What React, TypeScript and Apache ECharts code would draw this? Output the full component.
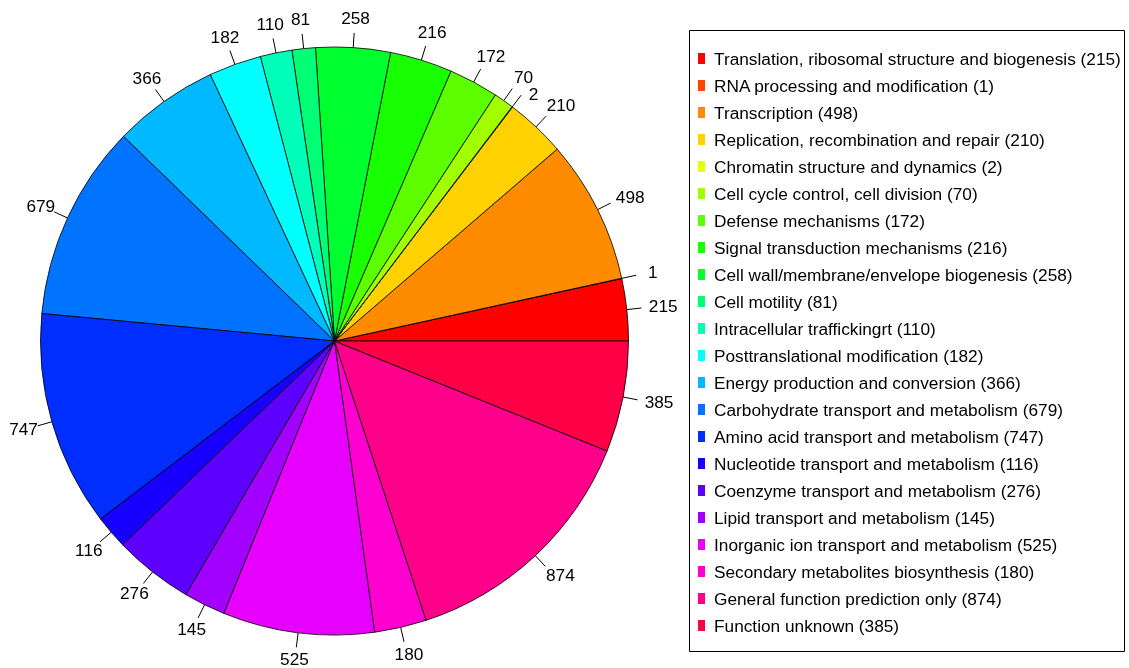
import React, { useEffect, useRef } from "react";
import * as echarts from "echarts";

const categories = [
  "Translation, ribosomal structure and biogenesis",
  "RNA processing and modification",
  "Transcription",
  "Replication, recombination and repair",
  "Chromatin structure and dynamics",
  "Cell cycle control, cell division",
  "Defense mechanisms",
  "Signal transduction mechanisms",
  "Cell wall/membrane/envelope biogenesis",
  "Cell motility",
  "Intracellular traffickingrt",
  "Posttranslational modification",
  "Energy production and conversion",
  "Carbohydrate transport and metabolism",
  "Amino acid transport and metabolism",
  "Nucleotide transport and metabolism",
  "Coenzyme transport and metabolism",
  "Lipid transport and metabolism",
  "Inorganic ion transport and metabolism",
  "Secondary metabolites biosynthesis",
  "General function prediction only",
  "Function unknown",
];

const counts = [
  215, 1, 498, 210, 2, 70, 172, 216, 258, 81, 110, 182, 366, 679, 747, 116, 276,
  145, 525, 180, 874, 385,
];

const colors = [
  "#FF0000", "#FF4600", "#FF8B00", "#FFD100", "#E8FF00", "#A2FF00", "#5DFF00",
  "#17FF00", "#00FF2E", "#00FF74", "#00FFB9", "#00FFFF", "#00B9FF", "#0074FF",
  "#002EFF", "#1700FF", "#5D00FF", "#A200FF", "#E800FF", "#FF00D1", "#FF008B",
  "#FF0046",
];

const FONT = "'Liberation Sans', Arial, Helvetica, sans-serif";
const FS = 17.25;
// small nudge for a label that would collide with its neighbour
const labelNudge: Record<number, [number, number]> = { 4: [2, 11] };

export default function App() {
  const ref = useRef<HTMLDivElement>(null);
  useEffect(() => {
    const chart = echarts.init(ref.current!, null, { renderer: "svg" });
    const cx = 334.5;
    const cy = 341;
    const r = 294;
    const total = counts.reduce((a, b) => a + b, 0);
    const mids: number[] = [];
    let acc = 0;
    counts.forEach((v) => {
      mids.push(acc + v / 2);
      acc += v;
    });
    const midAngle = (i: number) => (mids[i] / total) * 2 * Math.PI;

    chart.setOption({
      animation: false,
      graphic: [
        {
          type: "rect",
          silent: true,
          shape: { x: 689.5, y: 30.5, width: 435, height: 621 },
          style: { fill: "none", stroke: "#000", lineWidth: 1 },
        },
      ],
      legend: {
        orient: "vertical",
        left: 698,
        top: 50,
        padding: 0,
        itemWidth: 7,
        itemHeight: 11,
        itemGap: 10,
        icon: "rect",
        selectedMode: false,
        itemStyle: { borderWidth: 0 },
        textStyle: {
          fontSize: FS,
          lineHeight: 17,
          color: "#000",
          fontFamily: FONT,
          padding: [0, 0, 0, 4],
        },
        formatter: (name: string) => {
          const i = categories.indexOf(name);
          return `${name} (${counts[i]})`;
        },
        data: categories,
      },
      series: [
        {
          type: "pie",
          center: [cx, cy],
          radius: r,
          startAngle: 0,
          clockwise: false,
          avoidLabelOverlap: false,
          silent: true,
          emphasis: { disabled: true },
          data: categories.map((name, i) => ({
            name,
            value: counts[i],
            itemStyle: { color: colors[i] },
          })),
          itemStyle: { borderColor: "#000", borderWidth: 0.8 },
          label: {
            show: true,
            position: "outside",
            formatter: "{c}",
            fontSize: FS,
            color: "#000",
            fontFamily: FONT,
          },
          labelLine: {
            show: true,
            length: 15,
            length2: 0,
            lineStyle: { color: "#000", width: 1 },
          },
          labelLayout: (params: any) => {
            const i = params.dataIndex;
            const a = midAngle(i);
            const c = Math.cos(a);
            const s = Math.sin(a);
            const w = String(counts[i]).length * 0.556 * FS;
            const nudge = labelNudge[i] || [0, 0];
            const dx = (c > 0 ? 0.25 * c * w : 0) + nudge[0];
            const dy = (s < 0 ? 2.5 * s : 0) + nudge[1];
            return {
              x: cx + 1.1 * r * c + dx,
              y: cy - 1.1 * r * s + dy,
              align: "center",
              verticalAlign: "middle",
              labelLinePoints: [
                [cx + r * c, cy - r * s],
                [cx + 1.05 * r * c, cy - 1.05 * r * s],
              ],
            };
          },
        },
      ],
    });
    return () => chart.dispose();
  }, []);
  return (
    <div
      ref={ref}
      style={{ position: "fixed", left: 0, top: 0, width: 1129, height: 668 }}
    />
  );
}
